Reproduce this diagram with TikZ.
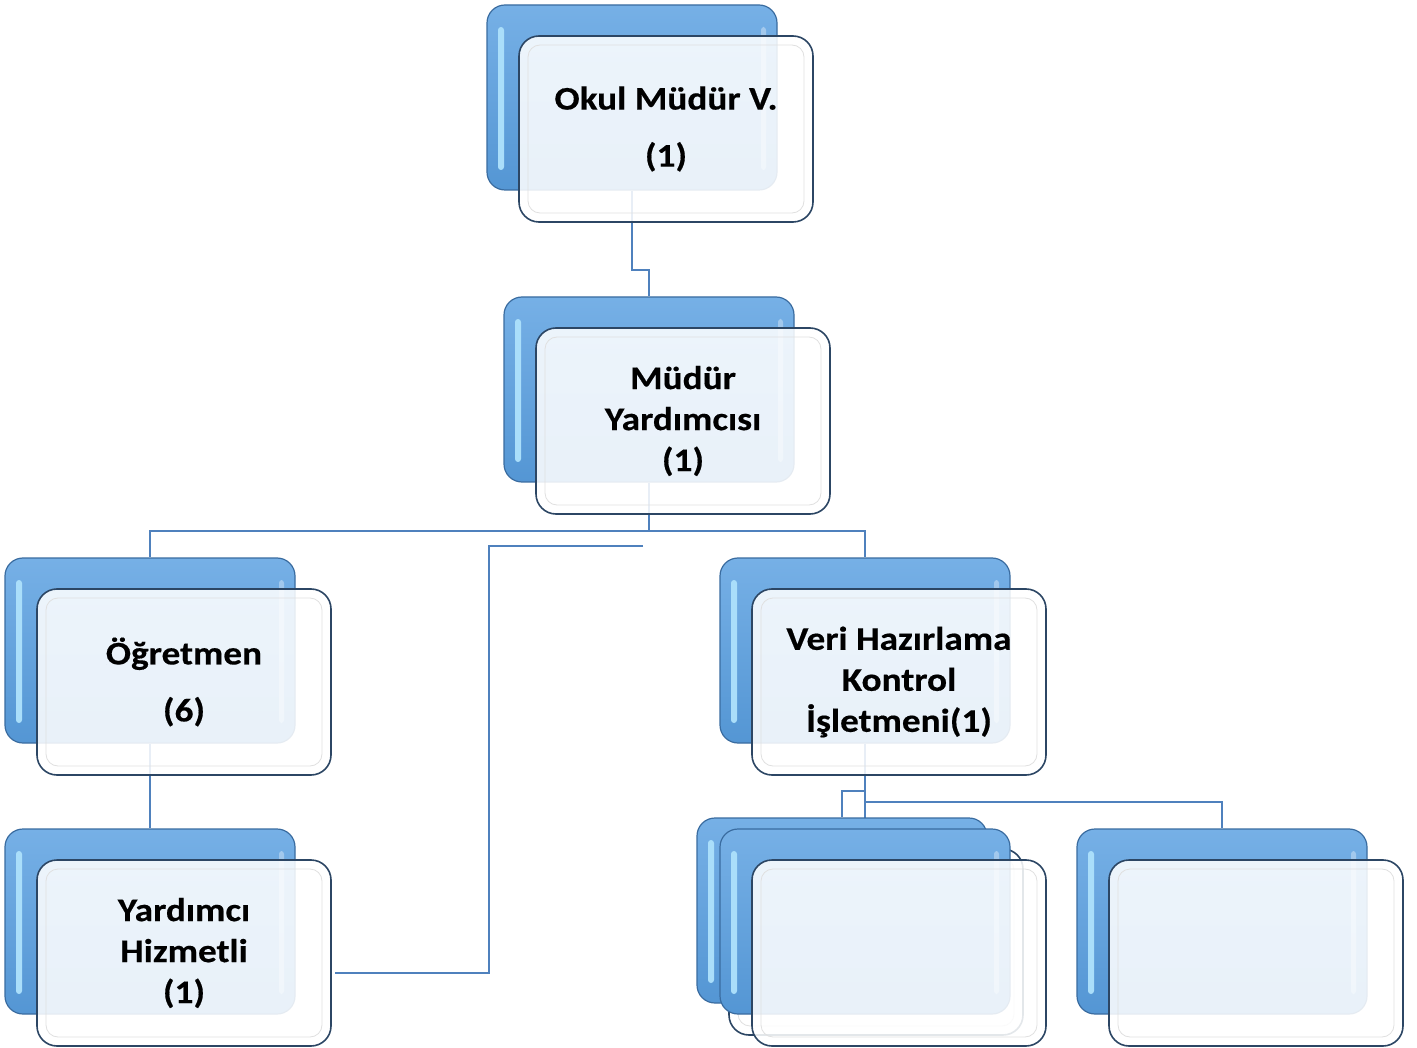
\documentclass[tikz,border=0pt]{standalone}
\usepackage{fontspec}
\setmainfont{Carlito}
\newfontfamily\boxfont{Carlito}[FakeStretch=1.13, BoldFeatures={FakeBold=0.4}]
\usetikzlibrary{calc}
\pgfdeclarelayer{bg}
\pgfdeclarelayer{lines}
\pgfsetlayers{bg,lines,main}
\definecolor{conn}{RGB}{79,129,189}
\definecolor{backtop}{RGB}{118,176,230}
\definecolor{backbot}{RGB}{84,150,212}
\definecolor{backedge}{RGB}{58,108,160}
\definecolor{frontedge}{RGB}{44,70,100}
\definecolor{hlcol}{RGB}{170,222,250}
\tikzset{
 backbox/.style={rectangle, rounded corners=18pt, draw=backedge, line width=1.2pt, top color=backtop, bottom color=backbot, minimum width=290pt, minimum height=185pt, inner sep=0pt},
 frontbox/.style={rectangle, rounded corners=20pt, draw=frontedge, line width=1.6pt, fill=white, fill opacity=0.87, text opacity=1, minimum width=294pt, minimum height=186pt, align=center, font=\boxfont\bfseries\fontsize{33}{41}\selectfont, inner sep=0pt},
 hlstrip/.style={fill=hlcol, rounded corners=3pt},
 hlright/.style={fill=white, opacity=0.35, rounded corners=3pt},
 bevel/.style={draw=black!12, line width=0.8pt, rounded corners=12pt},
 conline/.style={draw=conn, line width=2.4pt},
 thinline/.style={draw=conn, line width=1.3pt},
}
\newcommand\orgunit[4]{%
 \node[backbox] (#1b) at (#2+145,#3+92.5) {};
 \fill[hlstrip] (#2+11,#3+22) rectangle (#2+17,#3+165);
 \fill[hlright] (#2+274,#3+22) rectangle (#2+279,#3+165);
 \node[frontbox] (#1) at (#2+32+147,#3+31+93) {#4};
 \draw[bevel] (#2+41,#3+40) rectangle (#2+317,#3+208);
}
\begin{document}
\begin{tikzpicture}[x=1pt,y=-1pt]
\useasboundingbox (0,0) rectangle (1417,1048);
\begin{pgfonlayer}{bg}
\fill[white] (0,0) rectangle (1417,1048);
\end{pgfonlayer}
\orgunit{okul}{487}{5}{Okul Müdür V.\\[16pt](1)}
\orgunit{mudy}{504}{297}{Müdür\\Yardımcısı\\(1)}
\orgunit{ogr}{5}{558}{Öğretmen\\[16pt](6)}
\orgunit{yard}{5}{829}{Yardımcı\\Hizmetli\\(1)}
\orgunit{veri}{720}{558}{Veri Hazırlama\\Kontrol\\İşletmeni(1)}
\orgunit{sa}{697}{818}{}
\orgunit{sb}{720}{829}{}
\orgunit{sc}{1077}{829}{}
\begin{pgfonlayer}{lines}
\draw[conline] (okulb.south) -- (okulb.south |- 0,270) -| (mudyb.north);
\coordinate (bus1) at (mudyb.south |- 0,531);
\draw[conline] (mudyb.south) -- (bus1) -| (ogrb.north);
\draw[conline] (bus1) -| (verib.north);
\draw[conline] (ogrb.south) -- (yardb.north);
\coordinate (bus2) at (verib.south |- 0,791);
\draw[conline] (verib.south) -- (bus2) -| (sab.north);
\draw[conline] (verib.south) -- (sbb.north);
\coordinate (bus3) at (verib.south |- 0,802);
\draw[conline] (bus3) -| (scb.north);
\coordinate (oddA) at (643,546);
\coordinate (oddB) at (335,973);
\draw[thinline] (oddA) -- (489,546) |- (oddB);
\end{pgfonlayer}
\end{tikzpicture}
\end{document}
